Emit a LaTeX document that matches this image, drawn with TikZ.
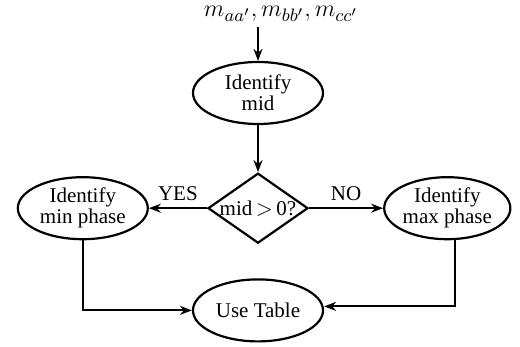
\documentclass[tikz,border=0pt]{standalone}
\usepackage{fontspec}
\setmainfont{Liberation Serif}
\DeclareMathSizes{11.5}{11.5}{9.5}{7.5}
\usetikzlibrary{arrows.meta,positioning,shapes.geometric}

\begin{document}
\begin{tikzpicture}[
  font=\fontsize{10.5}{10.5}\selectfont,
  stage/.style={draw,ellipse,line width=1.1pt,minimum width=65pt,minimum height=31pt,inner sep=0pt,align=center},
  test/.style={draw,diamond,aspect=1.43,line width=1.1pt,minimum width=50pt,minimum height=35pt,inner sep=-2pt},
  arr/.style={-{Stealth[length=6pt,width=4.5pt]},line width=0.9pt}]
\useasboundingbox (0,0) rectangle (260pt,173.5pt);
\node[stage] (mid) at (129pt,127pt) {Identify\\mid};
\coordinate[above=17pt of mid] (in);
\node[font=\fontsize{11.5}{11.5}\selectfont,anchor=base] (data) at (140.5pt,165pt) {$m_{aa'},m_{bb'},m_{cc'}$};
\node[test,below=23.5pt of mid] (sign) {mid\,$>$\,0?};
\node[stage,left=29pt of sign] (minph) {Identify\\min phase};
\node[stage,minimum width=62pt,right=37pt of sign] (maxph) {Identify\\max phase};
\node[stage,below=17pt of sign] (table) {Use Table};
\draw[arr] (in)--(mid); \draw[arr] (mid)--(sign);
\draw[arr] (sign)--node[above]{YES}(minph);
\draw[arr] (sign)--node[above]{NO}(maxph);
\draw[arr] (minph.south)|-(table.west);
\draw[arr] ([xshift=4pt]maxph.south)|-([yshift=2pt]table.east);
\end{tikzpicture}
\end{document}
